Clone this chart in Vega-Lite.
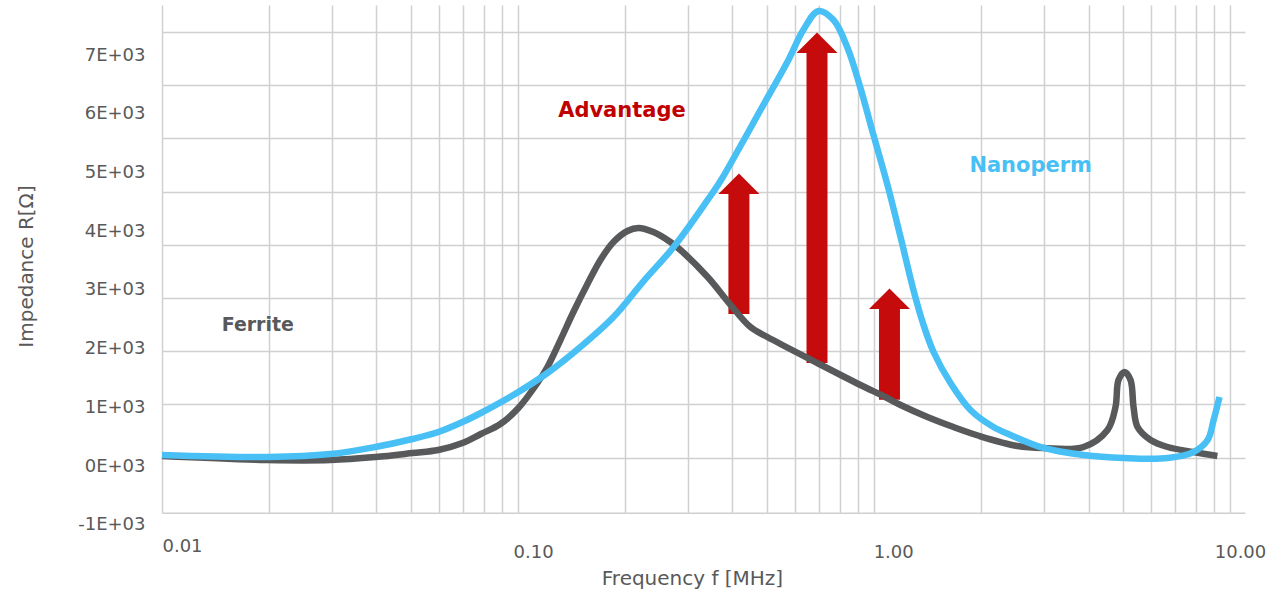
{
  "$schema": "https://vega.github.io/schema/vega-lite/v6.json",
  "width": 1083,
  "height": 507.7,
  "autosize": {"type": "none"},
  "padding": {"left": 162, "top": 5, "right": 23, "bottom": 80},
  "background": "white",
  "config": {"view": {"stroke": null}, "font": "DejaVu Sans"},
  "datasets": {
    "curves": [
      {"series": "Ferrite", "f": 0.01, "v": 170},
      {"series": "Ferrite", "f": 0.0198, "v": 102},
      {"series": "Ferrite", "f": 0.0297, "v": 102},
      {"series": "Ferrite", "f": 0.0397, "v": 153},
      {"series": "Ferrite", "f": 0.0505, "v": 221},
      {"series": "Ferrite", "f": 0.0597, "v": 273},
      {"series": "Ferrite", "f": 0.0698, "v": 392},
      {"series": "Ferrite", "f": 0.0786, "v": 545},
      {"series": "Ferrite", "f": 0.0892, "v": 715},
      {"series": "Ferrite", "f": 0.1002, "v": 988},
      {"series": "Ferrite", "f": 0.1133, "v": 1414},
      {"series": "Ferrite", "f": 0.1209, "v": 1686},
      {"series": "Ferrite", "f": 0.1315, "v": 2146},
      {"series": "Ferrite", "f": 0.143, "v": 2623},
      {"series": "Ferrite", "f": 0.1566, "v": 3100},
      {"series": "Ferrite", "f": 0.1703, "v": 3509},
      {"series": "Ferrite", "f": 0.1853, "v": 3815},
      {"series": "Ferrite", "f": 0.2028, "v": 4003},
      {"series": "Ferrite", "f": 0.2178, "v": 4054},
      {"series": "Ferrite", "f": 0.2399, "v": 3985},
      {"series": "Ferrite", "f": 0.2678, "v": 3815},
      {"series": "Ferrite", "f": 0.2858, "v": 3679},
      {"series": "Ferrite", "f": 0.3407, "v": 3219},
      {"series": "Ferrite", "f": 0.3954, "v": 2742},
      {"series": "Ferrite", "f": 0.4494, "v": 2367},
      {"series": "Ferrite", "f": 0.5012, "v": 2197},
      {"series": "Ferrite", "f": 0.6928, "v": 1754},
      {"series": "Ferrite", "f": 0.915, "v": 1380},
      {"series": "Ferrite", "f": 1.074, "v": 1175},
      {"series": "Ferrite", "f": 1.186, "v": 1039},
      {"series": "Ferrite", "f": 1.411, "v": 835},
      {"series": "Ferrite", "f": 1.67, "v": 664},
      {"series": "Ferrite", "f": 1.976, "v": 511},
      {"series": "Ferrite", "f": 2.527, "v": 341},
      {"series": "Ferrite", "f": 2.99, "v": 307},
      {"series": "Ferrite", "f": 3.874, "v": 324},
      {"series": "Ferrite", "f": 4.521, "v": 613},
      {"series": "Ferrite", "f": 4.762, "v": 1005},
      {"series": "Ferrite", "f": 4.855, "v": 1465},
      {"series": "Ferrite", "f": 5.048, "v": 1601},
      {"series": "Ferrite", "f": 5.248, "v": 1465},
      {"series": "Ferrite", "f": 5.351, "v": 1005},
      {"series": "Ferrite", "f": 5.491, "v": 664},
      {"series": "Ferrite", "f": 5.972, "v": 443},
      {"series": "Ferrite", "f": 6.667, "v": 324},
      {"series": "Ferrite", "f": 7.88, "v": 238},
      {"series": "Ferrite", "f": 9.2, "v": 170},
      {"series": "Nanoperm", "f": 0.01, "v": 187},
      {"series": "Nanoperm", "f": 0.0198, "v": 153},
      {"series": "Nanoperm", "f": 0.0297, "v": 204},
      {"series": "Nanoperm", "f": 0.0397, "v": 324},
      {"series": "Nanoperm", "f": 0.0505, "v": 460},
      {"series": "Nanoperm", "f": 0.0597, "v": 579},
      {"series": "Nanoperm", "f": 0.0698, "v": 749},
      {"series": "Nanoperm", "f": 0.0786, "v": 903},
      {"series": "Nanoperm", "f": 0.097, "v": 1209},
      {"series": "Nanoperm", "f": 0.1209, "v": 1584},
      {"series": "Nanoperm", "f": 0.1496, "v": 2027},
      {"series": "Nanoperm", "f": 0.1853, "v": 2538},
      {"series": "Nanoperm", "f": 0.224, "v": 3134},
      {"series": "Nanoperm", "f": 0.2734, "v": 3730},
      {"series": "Nanoperm", "f": 0.3407, "v": 4531},
      {"series": "Nanoperm", "f": 0.3701, "v": 4854},
      {"series": "Nanoperm", "f": 0.4212, "v": 5450},
      {"series": "Nanoperm", "f": 0.4794, "v": 6063},
      {"series": "Nanoperm", "f": 0.5704, "v": 6881},
      {"series": "Nanoperm", "f": 0.6324, "v": 7426},
      {"series": "Nanoperm", "f": 0.6975, "v": 7750},
      {"series": "Nanoperm", "f": 0.769, "v": 7596},
      {"series": "Nanoperm", "f": 0.842, "v": 7119},
      {"series": "Nanoperm", "f": 0.915, "v": 6438},
      {"series": "Nanoperm", "f": 0.9954, "v": 5638},
      {"series": "Nanoperm", "f": 1.09, "v": 4786},
      {"series": "Nanoperm", "f": 1.186, "v": 3900},
      {"series": "Nanoperm", "f": 1.289, "v": 2998},
      {"series": "Nanoperm", "f": 1.376, "v": 2402},
      {"series": "Nanoperm", "f": 1.468, "v": 1942},
      {"series": "Nanoperm", "f": 1.638, "v": 1414},
      {"series": "Nanoperm", "f": 1.864, "v": 954},
      {"series": "Nanoperm", "f": 2.163, "v": 664},
      {"series": "Nanoperm", "f": 2.415, "v": 528},
      {"series": "Nanoperm", "f": 2.99, "v": 307},
      {"series": "Nanoperm", "f": 3.874, "v": 187},
      {"series": "Nanoperm", "f": 5.02, "v": 136},
      {"series": "Nanoperm", "f": 6.67, "v": 136},
      {"series": "Nanoperm", "f": 7.88, "v": 238},
      {"series": "Nanoperm", "f": 8.64, "v": 443},
      {"series": "Nanoperm", "f": 8.98, "v": 783},
      {"series": "Nanoperm", "f": 9.33, "v": 1175}
    ],
    "arrows": [
      {"f": 0.417, "v0": 2590, "v1": 4633},
      {"f": 0.691, "v0": 1754, "v1": 7034},
      {"f": 1.104, "v0": 1130, "v1": 2674}
    ],
    "labels": [
      {"label": "Ferrite", "f": 0.01858, "v": 2299},
      {"label": "Advantage", "f": 0.1957, "v": 5944},
      {"label": "Nanoperm", "f": 2.751, "v": 5007}
    ]
  },
  "resolve": {"axis": {"y": "independent"}},
  "layer": [
    {
      "data": {"name": "arrows"},
      "mark": {"type": "rule", "strokeWidth": 21, "color": "#C50B0B", "strokeCap": "butt"},
      "encoding": {
        "x": {
          "field": "f", "type": "quantitative",
          "scale": {"type": "log", "domain": [0.01, 11], "nice": false},
          "axis": {
            "values": [0.01,0.02,0.03,0.04,0.05,0.06,0.07,0.08,0.09,0.1,0.2,0.3,0.4,0.5,0.6,0.7,0.8,0.9,1,2,3,4,5,6,7,8,9,10],
            "grid": true, "gridColor": "#D0D0D0", "gridWidth": 1.5,
            "ticks": false, "tickSize": 0,
            "domainColor": "#CFCFCF", "domainWidth": 1.5,
            "labelExpr": "abs(log(datum.value)/LN10 - round(log(datum.value)/LN10)) < 0.001 ? format(datum.value, '.2f') : ''",
            "labelFont": "DejaVu Sans", "labelFontSize": 18, "labelColor": "#595959",
            "labelAlign": "left", "labelBaseline": "alphabetic",
            "labelPadding": {"condition": {"test": "datum.value < 0.05", "value": 39}, "value": 45},
            "labelOffset": {"condition": [{"test": "datum.value < 0.05", "value": 0}, {"test": "datum.value < 0.5", "value": -5}, {"test": "datum.value < 5", "value": -1}], "value": -16},
            "labelFlush": false, "labelOverlap": false, "labelBound": false,
            "title": "Frequency f [MHz]", "titleFont": "DejaVu Sans", "titleFontSize": 20, "titleFontWeight": "normal", "titleColor": "#595959",
            "titleX": 530, "titleY": 72, "titleBaseline": "alphabetic", "titleAlign": "center"
          }
        },
        "y": {
          "field": "v0", "type": "quantitative",
          "scale": {"domain": [-795, 7852], "nice": false, "zero": false},
          "axis": {
            "orient": "left",
            "values": [141, 1048, 1955, 2862, 3769, 4675, 5582, 6489, 7396],
            "grid": true, "gridColor": "#D0D0D0", "gridWidth": 1.5,
            "labels": false, "ticks": false, "domain": false, "title": null
          }
        },
        "y2": {"field": "v1"}
      }
    },
    {
      "data": {"name": "curves"},
      "mark": {"type": "line", "strokeWidth": 6.5, "interpolate": "catmull-rom"},
      "encoding": {
        "x": {"field": "f", "type": "quantitative"},
        "y": {
          "field": "v", "type": "quantitative",
          "scale": {"domain": [-795, 7852], "nice": false, "zero": false},
          "axis": {
            "orient": "left",
            "values": [-790, 0, 1000, 2000, 3000, 4000, 5000, 6000, 7000],
            "grid": false, "ticks": false, "tickSize": 0, "domain": false,
            "labelExpr": "datum.value < -500 ? '-1E+03' : (datum.value/1000) + 'E+03'",
            "labelOffset": {"condition": {"test": "datum.value < -500", "value": 12}, "value": 0},
            "labelFont": "DejaVu Sans", "labelFontSize": 18, "labelColor": "#595959", "labelPadding": 17,
            "labelOverlap": false, "labelFlush": false, "labelBound": false,
            "title": "Impedance R[Ω]", "titleFont": "DejaVu Sans", "titleFontSize": 20, "titleFontWeight": "normal", "titleColor": "#595959",
            "titleX": -130, "titleY": 261, "titleAngle": -90, "titleBaseline": "alphabetic", "titleAlign": "center"
          }
        },
        "color": {
          "field": "series", "type": "nominal",
          "scale": {"domain": ["Ferrite", "Nanoperm", "Advantage"], "range": ["#58595B", "#48C0F5", "#C00000"]},
          "legend": null
        }
      }
    },
    {
      "data": {"name": "arrows"},
      "mark": {"type": "point", "shape": "M0,-1L1,0L-1,0Z", "size": 1681, "filled": true, "color": "#C50B0B", "opacity": 1, "strokeWidth": 0},
      "encoding": {
        "x": {"field": "f", "type": "quantitative"},
        "y": {"field": "v1", "type": "quantitative", "axis": null}
      }
    },
    {
      "data": {"name": "labels"},
      "mark": {"type": "text", "font": "DejaVu Sans", "fontWeight": "bold", "align": "center", "baseline": "alphabetic"},
      "encoding": {
        "x": {"field": "f", "type": "quantitative"},
        "y": {"field": "v", "type": "quantitative", "axis": null},
        "text": {"field": "label"},
        "size": {"condition": {"test": "datum.label === 'Ferrite'", "value": 19}, "value": 21},
        "color": {"field": "label", "type": "nominal", "legend": null}
      }
    }
  ]
}
